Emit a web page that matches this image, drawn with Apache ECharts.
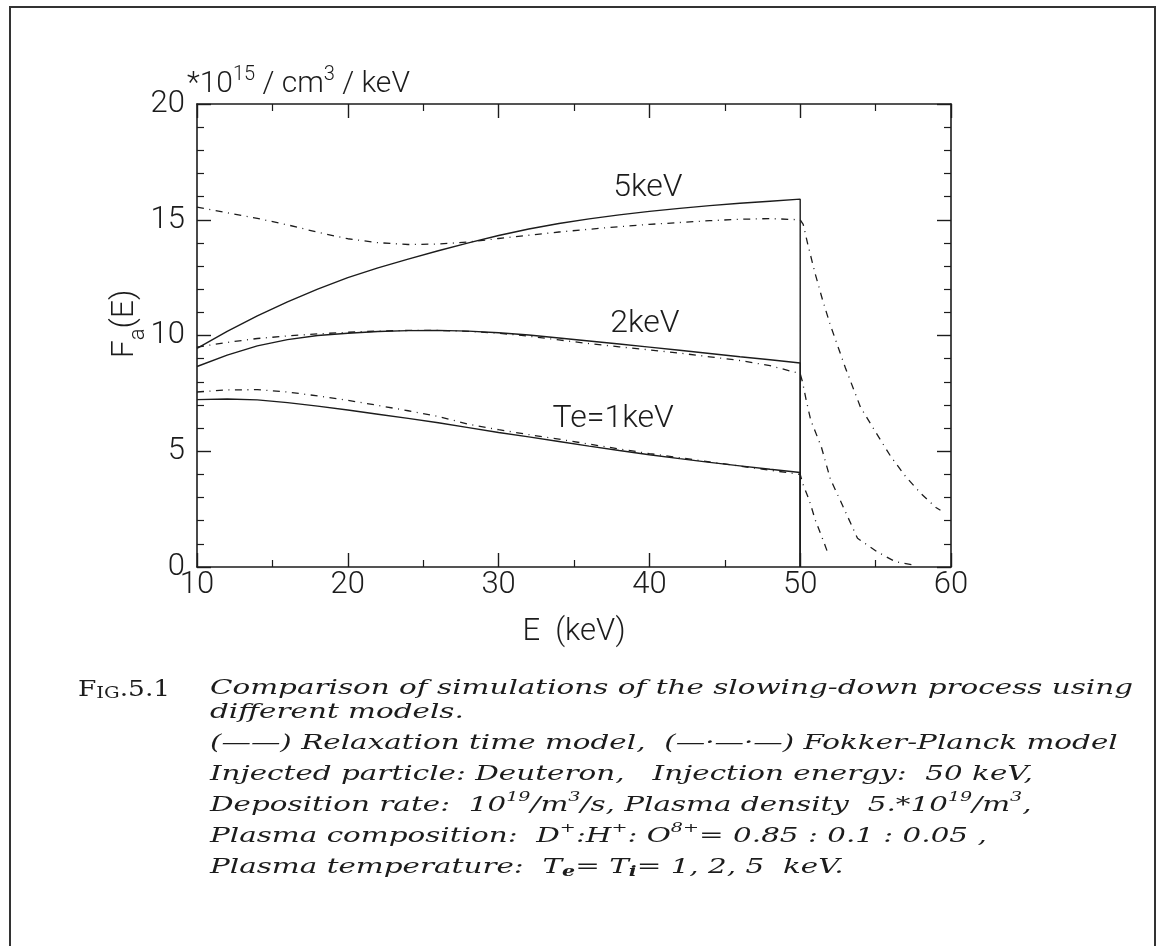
<!DOCTYPE html>
<html>
<head>
<meta charset="utf-8">
<script src="https://cdn.jsdelivr.net/npm/echarts@6/dist/echarts.min.js"></script>
<style>
  html, body { margin: 0; padding: 0; background: #fff; }
  #chart { width: 1158px; height: 952px; }
</style>
</head>
<body>
<div id="chart"></div>
<script>
// Energy grid (keV) up to the injection energy
const energy = [10, 12, 14, 16, 18, 20, 22, 24, 26, 28, 30, 32, 34, 36, 38, 40, 42, 44, 46, 48, 50];

// Relaxation time model, F_a(E) in 1e15 /cm^3/keV
const rt1 = [7.23, 7.26, 7.22, 7.10, 6.95, 6.78, 6.60, 6.42, 6.23, 6.02, 5.81, 5.62, 5.42, 5.22, 5.03, 4.85, 4.68, 4.52, 4.37, 4.22, 4.08];
const rt2 = [8.66, 9.15, 9.55, 9.82, 10.00, 10.10, 10.17, 10.21, 10.22, 10.19, 10.12, 10.02, 9.89, 9.76, 9.63, 9.50, 9.36, 9.22, 9.08, 8.95, 8.81];
const rt5 = [9.44, 10.18, 10.85, 11.45, 12.00, 12.50, 12.92, 13.30, 13.66, 14.00, 14.32, 14.60, 14.84, 15.04, 15.21, 15.36, 15.49, 15.61, 15.71, 15.80, 15.89];

// Fokker-Planck model on the same grid
const fp1 = [7.56, 7.65, 7.66, 7.56, 7.39, 7.20, 6.98, 6.75, 6.50, 6.17, 5.93, 5.72, 5.52, 5.31, 5.10, 4.90, 4.72, 4.54, 4.36, 4.18, 4.00];
const fp2 = [9.50, 9.70, 9.87, 9.98, 10.07, 10.14, 10.19, 10.22, 10.22, 10.18, 10.10, 9.97, 9.81, 9.65, 9.51, 9.38, 9.24, 9.08, 8.92, 8.70, 8.35];
const fp5 = [15.55, 15.30, 15.06, 14.78, 14.46, 14.18, 14.01, 13.93, 13.95, 14.04, 14.19, 14.33, 14.47, 14.59, 14.70, 14.80, 14.88, 14.96, 15.02, 15.05, 15.00];

// Fokker-Planck tails above the injection energy
const tail1E = [50.2, 50.6, 51.0, 51.6, 51.8];
const tail1F = [3.55, 2.89, 2.03, 1.02, 0.66];
const tail2E = [50.15, 50.4, 50.7, 51.4, 52.0, 52.9, 53.8, 55.1, 56.3, 57.6];
const tail2F = [8.00, 7.20, 6.34, 5.19, 3.80, 2.53, 1.24, 0.66, 0.23, 0.08];
const tail5E = [50.2, 50.5, 51.0, 51.5, 52.0, 53.0, 54.0, 55.0, 56.0, 57.0, 58.0, 59.0, 59.3];
const tail5F = [14.80, 13.95, 12.65, 11.50, 10.45, 8.60, 6.90, 5.83, 4.78, 3.90, 3.18, 2.57, 2.45];

const curveNames = ['Te=1keV', '2keV', '5keV'];

// Axis ranges and ticks
const xMin = 10, xMax = 60, xStep = 10;
const yMin = 0, yMax = 20, yStep = 5;

const INK = '#1c1c1c';
const SANS = 'Roboto';
const SANS_WEIGHT = 300;

function pairs(xs, ys) { return xs.map((x, i) => [x, ys[i]]); }
// Relaxation-time curves end with the cut-off at the injection energy
function withCutoff(ys) { return pairs(energy, ys).concat([[energy[energy.length - 1], 0]]); }
function withTail(ys, tx, ty) { return pairs(energy, ys).concat(pairs(tx, ty)); }

const solidStyle = { color: INK, width: 1.4, type: 'solid' };
const dashStyle = { color: INK, width: 1.3, type: [7, 5.5, 1, 5.5] };

function lineSeries(name, data, style) {
  return {
    name, type: 'line', data, xAxisIndex: 0, yAxisIndex: 0,
    showSymbol: false, symbol: 'none', smooth: false,
    lineStyle: style, silent: true, z: 3
  };
}

const series = [
  lineSeries('RT ' + curveNames[0], withCutoff(rt1), solidStyle),
  lineSeries('RT ' + curveNames[1], withCutoff(rt2), solidStyle),
  lineSeries('RT ' + curveNames[2], withCutoff(rt5), solidStyle),
  lineSeries('FP ' + curveNames[0], withTail(fp1, tail1E, tail1F), dashStyle),
  lineSeries('FP ' + curveNames[1], withTail(fp2, tail2E, tail2F), dashStyle),
  lineSeries('FP ' + curveNames[2], withTail(fp5, tail5E, tail5F), dashStyle)
];

const tickFont = { fontFamily: SANS, fontWeight: SANS_WEIGHT, fontSize: 31, color: INK };
const axisLineStyle = { lineStyle: { color: INK, width: 1.6 } };

function xAxisCfg(position, showLabels) {
  return {
    type: 'value', position, min: xMin, max: xMax, interval: xStep,
    axisLine: Object.assign({ show: true, onZero: false }, axisLineStyle),
    axisTick: { show: true, inside: true, length: 14, lineStyle: { color: INK, width: 1.4 } },
    minorTick: { show: true, splitNumber: 2, length: 7, lineStyle: { color: INK, width: 1.2 } },
    splitLine: { show: false },
    axisLabel: Object.assign({ show: showLabels, margin: 3 }, tickFont),
    name: showLabels ? 'E  (keV)' : '',
    nameLocation: 'middle', nameGap: 50,
    nameTextStyle: { fontFamily: SANS, fontWeight: SANS_WEIGHT, fontSize: 31, color: INK }
  };
}
function yAxisCfg(position, showLabels) {
  return {
    type: 'value', position, min: yMin, max: yMax, interval: yStep,
    axisLine: Object.assign({ show: true, onZero: false }, axisLineStyle),
    axisTick: { show: true, inside: true, length: 14, lineStyle: { color: INK, width: 1.4 } },
    minorTick: { show: true, splitNumber: 5, length: 7, lineStyle: { color: INK, width: 1.2 } },
    splitLine: { show: false },
    axisLabel: Object.assign({ show: showLabels, margin: 12 }, tickFont)
  };
}

const chart = echarts.init(document.getElementById('chart'), null, { renderer: 'canvas' });

chart.setOption({
  animation: false,
  backgroundColor: '#fff',
  grid: { left: 197, top: 104, width: 754, height: 463, containLabel: false, outerBoundsMode: 'none' },
  xAxis: [xAxisCfg('bottom', true), xAxisCfg('top', false)],
  yAxis: [yAxisCfg('left', true), yAxisCfg('right', false)],
  series
});

// Curve labels placed in data coordinates
const labelAnchors = [[37.6, 6.4], [39.7, 10.5], [39.9, 16.36]];

// Caption text (italic serif), widened to the figure's measure
const capFont = 'DejaVu Serif';
const capSize = 20;
const captionLines = [
  { y: 689, text: 'Comparison of simulations of the slowing-down process using' },
  { y: 713, text: 'different models.' },
  { y: 744, text: '(——) Relaxation time model,  (—·—·—) Fokker-Planck model' },
  { y: 775, text: 'Injected particle: Deuteron,   Injection energy:  50 keV,' },
  { y: 806, text: 'Deposition rate:  10{s|19}/m{s|3}/s, Plasma density  5.*10{s|19}/m{s|3},' },
  { y: 837, text: 'Plasma composition:  D{s|+}:H{s|+}: O{s|8+}= 0.85 : 0.1 : 0.05 ,' },
  { y: 868, text: 'Plasma temperature:  T{b|e}= T{b|i}= 1, 2, 5  keV.' }
];
const capLeft = 210, capRight = 1133;

function measure(text, font) {
  const c = document.createElement('canvas').getContext('2d');
  c.font = font;
  return c.measureText(text).width;
}
const capScale = (capRight - capLeft) / measure(captionLines[0].text, 'italic ' + capSize + 'px "' + capFont + '"');

const capRich = {
  s: { fontFamily: capFont, fontStyle: 'italic', fontSize: 13, verticalAlign: 'top', lineHeight: 30, fill: INK },
  b: { fontFamily: capFont, fontStyle: 'italic', fontWeight: 'bold', fontSize: 14, verticalAlign: 'bottom', lineHeight: 22, fill: INK }
};

function render() {
  const graphics = [];

  // page frame
  graphics.push({ type: 'polyline', silent: true, shape: { points: [[10, 946], [10, 7], [1155, 7], [1155, 946]] },
    style: { stroke: '#333', lineWidth: 2, fill: null } });

  // curve labels
  curveNames.forEach((name, i) => {
    const p = chart.convertToPixel({ xAxisIndex: 0, yAxisIndex: 0 }, labelAnchors[i]);
    graphics.push({ type: 'text', silent: true, x: p[0], y: p[1],
      style: { text: name, fontFamily: SANS, fontWeight: SANS_WEIGHT, fontSize: 32, fill: INK, align: 'center', verticalAlign: 'middle' } });
  });

  // unit of the y axis
  graphics.push({ type: 'text', silent: true, x: 187, y: 82,
    style: {
      text: '{a|*10}{s|15}{a| / cm}{s|3}{a| / keV}', align: 'left', verticalAlign: 'middle',
      rich: {
        a: { fontFamily: SANS, fontWeight: SANS_WEIGHT, fontSize: 30, fill: INK, lineHeight: 34, verticalAlign: 'bottom' },
        s: { fontFamily: SANS, fontWeight: SANS_WEIGHT, fontSize: 20, fill: INK, lineHeight: 34, verticalAlign: 'top' }
      }
    } });

  // y axis title F_a(E), reading upwards
  graphics.push({ type: 'text', silent: true, x: 129, y: 324, rotation: Math.PI / 2,
    style: {
      text: '{f|F}{u|a}{f|(E)}', align: 'center', verticalAlign: 'middle',
      rich: {
        f: { fontFamily: SANS, fontWeight: SANS_WEIGHT, fontSize: 32, fill: INK, lineHeight: 40, verticalAlign: 'top' },
        u: { fontFamily: SANS, fontWeight: SANS_WEIGHT, fontSize: 22, fill: INK, lineHeight: 40, verticalAlign: 'bottom' }
      }
    } });

  // figure number in small capitals
  graphics.push({ type: 'text', silent: true, x: 78, y: 689, scaleX: 1.15,
    style: {
      text: '{F|F}{c|IG}{F|.5.1}', align: 'left', verticalAlign: 'middle',
      rich: {
        F: { fontFamily: 'DejaVu Serif', fontSize: 23, fill: INK, lineHeight: 26, verticalAlign: 'bottom' },
        c: { fontFamily: 'DejaVu Serif', fontSize: 17, fill: INK, lineHeight: 26, verticalAlign: 'bottom' }
      }
    } });

  // caption
  captionLines.forEach((ln) => {
    graphics.push({ type: 'text', silent: true, x: capLeft, y: ln.y, scaleX: capScale,
      style: {
        text: ln.text, align: 'left', verticalAlign: 'middle',
        fontFamily: capFont, fontStyle: 'italic', fontSize: capSize, fill: INK,
        rich: capRich
      } });
  });

  chart.setOption({ graphic: { elements: graphics } });
}
render();
</script>
</body>
</html>
